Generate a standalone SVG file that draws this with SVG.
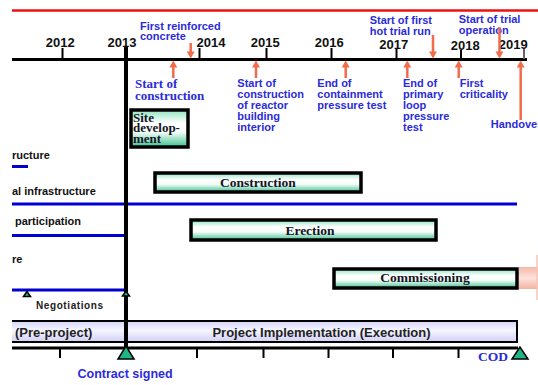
<svg xmlns="http://www.w3.org/2000/svg" width="538" height="385" viewBox="0 0 538 385">
<style>
.yr{font-family:"Liberation Sans",Arial,sans-serif;font-weight:bold;font-size:13px;fill:#111;text-anchor:middle}
.lb{font-family:"Liberation Sans",Arial,sans-serif;font-weight:bold;font-size:11px;fill:#2b2bd9}
.lbs{font-family:"Liberation Serif","Times New Roman",serif;font-weight:bold;font-size:13px;fill:#2b2bd9}
.row{font-family:"Liberation Sans",Arial,sans-serif;font-weight:bold;font-size:11px;fill:#111}
.bar{fill:url(#gG);stroke:#000;stroke-width:3.5}
.bt{font-family:"Liberation Serif","Times New Roman",serif;font-weight:bold;font-size:13.5px;fill:#151525;text-anchor:middle}
.st{font-family:"Liberation Serif","Times New Roman",serif;font-weight:bold;font-size:13px;fill:#151525}
.arr line{stroke:#f26b4a;stroke-width:2.5}
.arr polygon{fill:#f26b4a}
.bl{stroke:#0000d0;stroke-width:3}
.tk{stroke:#000;stroke-width:2}
.tri{fill:#1fb587;stroke:#000;stroke-width:1.5}
</style>
<defs>
<linearGradient id="gG" x1="0" y1="0" x2="0" y2="1">
<stop offset="0" stop-color="#8fe3c0"/>
<stop offset="0.35" stop-color="#ffffff"/>
<stop offset="0.6" stop-color="#f4fcf8"/>
<stop offset="1" stop-color="#3dbf8e"/>
</linearGradient>
<linearGradient id="gL" x1="0" y1="0" x2="0" y2="1">
<stop offset="0" stop-color="#d4d4fb"/>
<stop offset="0.45" stop-color="#f6f6ff"/>
<stop offset="1" stop-color="#cfcff6"/>
</linearGradient>
<linearGradient id="gP" x1="0" y1="0" x2="0" y2="1">
<stop offset="0" stop-color="#f7b8a8"/>
<stop offset="0.5" stop-color="#fde3dc"/>
<stop offset="1" stop-color="#f5b1a0"/>
</linearGradient>
<clipPath id="cp"><rect x="12" y="0" width="526" height="385"/></clipPath>
</defs>
<rect width="538" height="385" fill="#fff"/>
<g clip-path="url(#cp)">
<line x1="12" y1="10.5" x2="538" y2="10.5" stroke="#ee1111" stroke-width="2.5"/>

<g id="top-axis">
<line x1="12" y1="59.5" x2="527" y2="59.5" stroke="#000" stroke-width="3"/>
<line class="tk" x1="62.5" y1="48" x2="62.5" y2="59"/>
<line class="tk" x1="199.5" y1="48" x2="199.5" y2="59"/>
<line class="tk" x1="266.5" y1="48" x2="266.5" y2="59"/>
<line class="tk" x1="331.5" y1="48" x2="331.5" y2="59"/>
<line class="tk" x1="396.5" y1="49" x2="396.5" y2="59"/>
<line class="tk" x1="461" y1="50" x2="461" y2="59"/>
<line x1="524" y1="48" x2="524" y2="59" stroke="#666" stroke-width="2"/>
<text class="yr" x="60.3" y="46.5">2012</text>
<text class="yr" x="122" y="46.5">2013</text>
<text class="yr" x="211" y="46.5">2014</text>
<text class="yr" x="265.2" y="46.5">2015</text>
<text class="yr" x="329.3" y="46.5">2016</text>
<text class="yr" x="393.8" y="48.5">2017</text>
<text class="yr" x="465.2" y="50">2018</text>
<text class="yr" x="513.3" y="49">2019</text>
</g>

<g id="rows">
<text class="row" x="12" y="159">ructure</text>
<line class="bl" x1="12" y1="166.5" x2="28" y2="166.5"/>
<text class="row" x="12" y="195">al infrastructure</text>
<line class="bl" x1="12" y1="204" x2="517" y2="204"/>
<text class="row" x="15" y="225">participation</text>
<line class="bl" x1="12" y1="235.5" x2="126" y2="235.5"/>
<text class="row" x="12" y="262.5">re</text>
<line class="bl" x1="12" y1="290" x2="126" y2="290"/>
</g>

<g id="phase-bar">
<path d="M5,321 H517 V342 H5" fill="url(#gL)" stroke="#000" stroke-width="2"/>
<text x="15" y="337" font-family="Liberation Sans, Arial, sans-serif" font-weight="bold" font-size="13" fill="#222">(Pre-project)</text>
<text x="321.5" y="337" text-anchor="middle" font-family="Liberation Sans, Arial, sans-serif" font-weight="bold" font-size="13" fill="#222">Project Implementation (Execution)</text>
</g>

<g id="bottom-axis">
<line x1="12" y1="348" x2="518" y2="348" stroke="#000" stroke-width="3"/>
<line class="tk" x1="60" y1="349" x2="60" y2="358"/>
<line class="tk" x1="197" y1="349" x2="197" y2="358"/>
<line class="tk" x1="263.5" y1="349" x2="263.5" y2="358"/>
<line class="tk" x1="328.5" y1="349" x2="328.5" y2="358"/>
<line class="tk" x1="393" y1="349" x2="393" y2="358"/>
<line class="tk" x1="458.5" y1="349" x2="458.5" y2="358"/>
</g>

<line x1="126" y1="47" x2="126" y2="352" stroke="#000" stroke-width="4"/>

<g id="contract-signed">
<polygon class="tri" points="126,346 118,359 134,359"/>
<text x="77.5" y="377.5" font-family="Liberation Sans, Arial, sans-serif" font-weight="bold" font-size="12.5" fill="#2b2bd9">Contract signed</text>
</g>
<g id="cod">
<polygon class="tri" points="520,347 512,359 528,359"/>
<text x="478" y="361" font-family="Liberation Serif, Times New Roman, serif" font-weight="bold" font-size="13.5" fill="#2b2bd9">COD</text>
</g>
<g id="negotiations">
<polygon class="tri" points="27,291.5 23.5,296.5 30.5,296.5" stroke-width="1"/>
<polygon class="tri" points="126,291 122.5,296 129.5,296" stroke-width="1"/>
<text x="36" y="309" font-family="Liberation Sans, Arial, sans-serif" font-weight="bold" font-size="10" textLength="67" fill="#222">Negotiations</text>
</g>

<g id="site-development">
<rect class="bar" x="131" y="110" width="57" height="37"/>
<text class="st" x="133" y="121.5">Site</text>
<text class="st" x="133" y="132">develop-</text>
<text class="st" x="133" y="143" font-size="12">ment</text>
</g>
<g id="construction">
<rect class="bar" x="155" y="173" width="206" height="19"/>
<text class="bt" x="258" y="187">Construction</text>
</g>
<g id="erection">
<rect class="bar" x="191" y="220" width="245" height="20"/>
<text class="bt" x="310" y="235">Erection</text>
</g>
<g id="commissioning">
<rect x="519" y="267" width="20" height="22" fill="url(#gP)"/>
<line x1="537" y1="255" x2="537" y2="300" stroke="#f7c5b8" stroke-width="1.5"/>
<rect class="bar" x="334" y="269" width="183" height="19"/>
<text class="bt" x="425" y="282">Commissioning</text>
</g>

<g id="m-start-construction"><text class="lbs"><tspan x="135" y="88">Start of</tspan><tspan x="135" y="100">construction</tspan></text></g>
<g id="m-first-concrete"><text class="lb"><tspan x="140" y="30">First reinforced</tspan><tspan x="140" y="40">concrete</tspan></text></g>
<g id="m-reactor-interior"><text class="lb"><tspan x="237.3" y="87">Start of</tspan><tspan x="237.3" y="98">construction</tspan><tspan x="237.3" y="109">of reactor</tspan><tspan x="237.3" y="120">building</tspan><tspan x="237.3" y="131">interior</tspan></text></g>
<g id="m-containment"><text class="lb"><tspan x="317.3" y="87">End of</tspan><tspan x="317.3" y="98">containment</tspan><tspan x="317.3" y="109">pressure test</tspan></text></g>
<g id="m-hot-run"><text class="lb"><tspan x="369.7" y="24">Start of first</tspan><tspan x="369.7" y="35">hot trial run</tspan></text></g>
<g id="m-primary-loop"><text class="lb"><tspan x="403" y="87">End of</tspan><tspan x="403" y="98">primary</tspan><tspan x="403" y="109">loop</tspan><tspan x="403" y="120">pressure</tspan><tspan x="403" y="131">test</tspan></text></g>
<g id="m-criticality"><text class="lb"><tspan x="459.7" y="87">First</tspan><tspan x="459.7" y="98">criticality</tspan></text></g>
<g id="m-trial-operation"><text class="lb"><tspan x="458.7" y="23">Start of trial</tspan><tspan x="458.7" y="33.5">operation</tspan></text></g>
<g id="m-handover"><text class="lb" x="490.7" y="128">Handover</text></g>

<g id="connectors" class="arr">
<line x1="173.3" y1="66" x2="173.3" y2="78"/><polygon points="173.3,60.5 169.3,67.5 177.3,67.5"/>
<line x1="190.7" y1="43" x2="190.7" y2="53"/><polygon points="190.7,58.5 186.7,51.5 194.7,51.5"/>
<line x1="256" y1="66" x2="256" y2="78"/><polygon points="256,60.5 252,67.5 260,67.5"/>
<line x1="345.7" y1="66" x2="345.7" y2="78"/><polygon points="345.7,60.5 341.7,67.5 349.7,67.5"/>
<line x1="407.3" y1="66" x2="407.3" y2="78"/><polygon points="407.3,60.5 403.3,67.5 411.3,67.5"/>
<line x1="433" y1="35" x2="433" y2="53"/><polygon points="433,58.5 429,51.5 437,51.5"/>
<line x1="458.7" y1="66" x2="458.7" y2="78"/><polygon points="458.7,60.5 454.7,67.5 462.7,67.5"/>
<line x1="499.5" y1="27" x2="499.5" y2="53"/><polygon points="499.5,58.5 495.5,51.5 503.5,51.5"/>
<line x1="520.7" y1="66" x2="520.7" y2="120"/><polygon points="520.7,60.5 516.7,67.5 524.7,67.5"/>
</g>
</g>
</svg>
